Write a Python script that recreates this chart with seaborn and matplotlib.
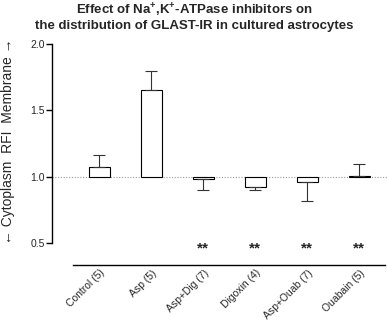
import matplotlib
matplotlib.use("Agg")
import matplotlib.pyplot as plt
import seaborn as sns
import pandas as pd
import numpy as np

categories = ["Control (5)", "Asp (5)", "Asp+Dig (7)", "Digoxin (4)", "Asp+Ouab (7)", "Ouabain (5)"]
means = [1.077, 1.656, 0.983, 0.923, 0.960, 1.006]
sems = [0.086, 0.144, 0.083, 0.023, 0.143, 0.092]
significance = ["", "", "**", "**", "**", "**"]
baseline = 1.0

sns.set_theme(style="white")
plt.rcParams["font.family"] = ["Liberation Sans", "DejaVu Sans"]
plt.rcParams["mathtext.fontset"] = "custom"
plt.rcParams["mathtext.rm"] = "Liberation Sans:bold"
plt.rcParams["mathtext.bf"] = "Liberation Sans:bold"

df = pd.DataFrame({"group": categories, "delta": np.array(means) - baseline})

fig = plt.figure(figsize=(3.87, 3.30), dpi=100)
ax = fig.add_axes([52 / 387, 1 - 265 / 330, 335 / 387, (265 - 44) / 330])

sns.barplot(data=df, x="group", y="delta", bottom=baseline, color="white",
            edgecolor="black", linewidth=0.8, width=0.4, ax=ax, errorbar=None,
            saturation=1)

x = np.arange(len(categories))
lower = [s if m < baseline else 0 for m, s in zip(means, sems)]
upper = [s if m >= baseline else 0 for m, s in zip(means, sems)]
ax.errorbar(x, means, yerr=[lower, upper], fmt="none", ecolor="#333333",
            elinewidth=0.8, capsize=4, capthick=0.8, zorder=1)

ax.axhline(baseline, color="#999999", linestyle=(0, (1, 1.5)), linewidth=0.8, zorder=0)

for xi, s in zip(x, significance):
    if s:
        ax.text(xi, 0.46, s, ha="center", va="center", fontsize=11, fontweight="bold")

ax.set_xlim(-0.913, 5.53)
ax.set_ylim(0.336, 2.0)
ax.set_yticks([0.5, 1.0, 1.5, 2.0])
ax.set_yticklabels(["0.5", "1.0", "1.5", "2.0"], fontsize=7.5)
ax.spines["top"].set_visible(False)
ax.spines["right"].set_visible(False)
ax.spines["left"].set_bounds(0.5, 2.0)
ax.spines["bottom"].set_bounds(-0.5, 5.5)
for sp in ["left", "bottom"]:
    ax.spines[sp].set_color("black")
    ax.spines[sp].set_linewidth(1.0)
ax.tick_params(axis="y", which="both", left=True, length=4, width=1.0, color="black", pad=1, labelsize=7.5)
ax.tick_params(axis="x", bottom=False, length=0, pad=2)
ax.set_xticks(x)
ax.set_xticklabels(categories, rotation=45, ha="right", rotation_mode="anchor", fontsize=7.5)
ax.set_xlabel("")
ax.set_ylabel("\u2190 Cytoplasm  RFI  Membrane \u2192", fontsize=10)
ax.yaxis.set_label_coords(-0.11, 0.559)

fig.text(0.502, 0.995,
         "Effect of Na$^{+}$,K$^{+}$-ATPase inhibitors on\n"
         "the distribution of GLAST-IR in cultured astrocytes",
         ha="center", va="top", ma="center", fontsize=9.5, fontweight="bold",
         linespacing=1.15)

fig.savefig("out.png", dpi=100)
